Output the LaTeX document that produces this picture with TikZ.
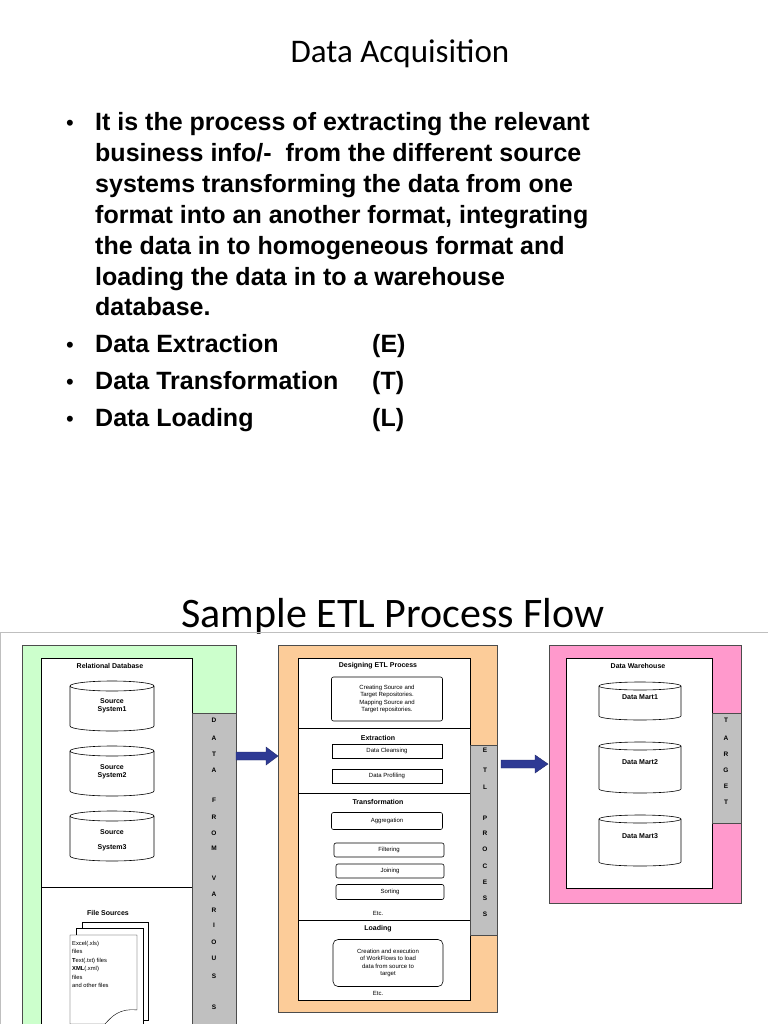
\documentclass[tikz,border=0pt]{standalone}
\usepackage{fontspec}
\setmainfont{Liberation Sans}
\newfontfamily\calib{Carlito}
\usetikzlibrary{shapes.geometric}
\definecolor{pgreen}{HTML}{CCFFCC}
\definecolor{porange}{HTML}{FCCC99}
\definecolor{ppink}{HTML}{FF99CC}
\definecolor{pgray}{HTML}{C0C0C0}
\definecolor{parrow}{HTML}{2E3A94}
\begin{document}
\begin{tikzpicture}[x=1pt,y=-1pt,
  bul/.style={anchor=base west,font=\fontsize{25}{27}\selectfont\bfseries,inner sep=0},
  dot/.style={anchor=base,font=\fontsize{22}{24}\selectfont,inner sep=0},
  panel/.style={draw=black!70,line width=0.8pt},
  inner/.style={draw=black,fill=white,line width=0.6pt},
  col/.style={draw=black!70,fill=pgray,line width=0.6pt},
  hd/.style={font=\fontsize{7}{8}\selectfont\bfseries,inner sep=0},
  sm/.style={font=\fontsize{6}{7.5}\selectfont,inner sep=0,align=center},
  vl/.style={font=\fontsize{6.5}{7}\selectfont\bfseries,inner sep=0},
  rbox/.style={draw,rounded corners=2pt,line width=0.6pt,fill=white},
  barrow/.style={fill=parrow,draw=parrow!70!black,line width=0.4pt},
  pics/cyl/.style n args={3}{code={
    \draw[fill=white,line width=0.6pt] (-#1,0) arc[start angle=180,end angle=360,x radius=#1,y radius=#2]
      -- (#1,#3) arc[start angle=0,end angle=180,x radius=#1,y radius=#2] -- cycle;
    \draw[line width=0.6pt] (-#1,0) arc[start angle=180,end angle=0,x radius=#1,y radius=#2];
  }}]
\useasboundingbox (0,0) rectangle (768,1024);
\fill[white] (0,0) rectangle (768,1024);
% titles
\node[font=\calib\fontsize{33}{36}\selectfont] (t1) at (400,54) {Data Acquisition};
\node[font=\calib\fontsize{42}{46}\selectfont] (t2) at (393,616) {Sample ETL Process Flow};
% bullets
\foreach \y in {131,352,389,426} \node[dot] at (70,\y) {\textbullet};
\node[bul] (b1) at (95,131) {It is the process of extracting the relevant};
\node[bul] (b2) at (95,162) {business info/-\ \ from the different source};
\node[bul] (b3) at (95,193) {systems transforming the data from one};
\node[bul] (b4) at (95,223) {format into an another format, integrating};
\node[bul] (b5) at (95,254) {the data in to homogeneous format and};
\node[bul] (b6) at (95,285) {loading the data in to a warehouse};
\node[bul] (b7) at (95,315) {database.};
\node[bul] (e1) at (95,352) {Data Extraction};
\node[bul] (e2) at (95,389) {Data Transformation};
\node[bul] (e3) at (95,426) {Data Loading};
\node[bul] (f1) at (372,352) {(E)};
\node[bul] (f2) at (372,389) {(T)};
\node[bul] (f3) at (372,426) {(L)};
% frame line
\draw[black!25,line width=1pt] (0,1024) -- (0,632) -- (768,632);
% ---------- left panel
\draw[panel,fill=pgreen] (22,645) rectangle (236,1030);
\draw[inner] (41,658) rectangle (192,1030);
\draw[inner] (41,887) -- (192,887);
\draw[col] (192,713) rectangle (236,1030);
\node[hd] (rd) at (110,666) {Relational Database};
\pic at (112,686) {cyl={42}{5}{40}};
\node[hd,align=center] (s1) at (112,706) {Source\\System1};
\pic at (112,751) {cyl={42}{5}{40}};
\node[hd,align=center] (s2) at (112,772) {Source\\System2};
\pic at (112,816) {cyl={42}{5}{40}};
\node[hd] (s3) at (112,832) {Source};
\node[hd] at (112,848) {System3};
\node[hd] (fs) at (108,913) {File Sources};
\draw[fill=white] (82,922) rectangle (148,1020);
\draw[fill=white] (76,928) rectangle (143,1026);
\draw[fill=white] (70,935) -- (137,935) -- (137,1010) .. controls (120,1008) and (112,1016) .. (105,1024) -- (70,1024) -- cycle;
\node[sm,anchor=north west,align=left,font=\fontsize{5.8}{8.5}\selectfont] (fst) at (72,941) {Excel(.xls)\\files\\\textbf{T}ext(.txt) files\\\textbf{XML}(.xml)\\files\\and other files};
\foreach \l/\y in {D/720,A/738,T/754,A/770,F/800,R/817,O/833,M/848,V/878,A/894,R/910,I/925,O/942,U/958,S/976,S/1007}
  \node[vl] at (214,\y) {\l};
% arrows
\draw[barrow] (236,752) -- (266,752) -- (266,747) -- (278,756) -- (266,765) -- (266,760) -- (236,760) -- cycle;
\draw[barrow] (501,760) -- (535,760) -- (535,755) -- (548,764) -- (535,773) -- (535,768) -- (501,768) -- cycle;
% ---------- middle panel
\draw[panel,fill=porange] (278,645) rectangle (497,1012);
\draw[inner] (298,658) rectangle (470,1000);
\draw (298,728) -- (470,728) (298,793) -- (470,793) (298,920) -- (470,920);
\draw[col] (470,745) rectangle (497,935);
\node[hd] (d1) at (378,666) {Designing ETL Process};
\node[rbox,minimum width=111pt,minimum height=44pt] (d2) at (387,699) {};
\node[sm] at (387,699) {Creating Source and\\Target Repositories.\\Mapping Source and\\Target repositories.};
\node[hd] (x1) at (378,738) {Extraction};
\node[rbox,rounded corners=0pt,minimum width=110pt,minimum height=14pt,sm] (x2) at (387,751) {Data Cleansing};
\node[rbox,rounded corners=0pt,minimum width=110pt,minimum height=14pt,sm] (x3) at (387,776) {Data Profiling};
\node[hd] (tr) at (378,802) {Transformation};
\node[rbox,minimum width=111pt,minimum height=17pt,sm] (tr1) at (387,821) {Aggregation};
\node[rbox,minimum width=110pt,minimum height=14pt,sm] (tr2) at (389,850) {Filtering};
\node[rbox,minimum width=108pt,minimum height=14pt,sm] (tr3) at (390,871) {Joining};
\node[rbox,minimum width=108pt,minimum height=15pt,sm] (tr4) at (390,892) {Sorting};
\node[sm] (etc1) at (378,913) {Etc.};
\node[hd] (ld) at (378,929) {Loading};
\node[rbox,rounded corners=5pt,minimum width=110pt,minimum height=47pt] (ld2) at (388,963) {};
\node[sm] at (388,963) {Creation and execution\\of WorkFlows to load\\data from source to\\target};
\node[sm] (etc2) at (378,993) {Etc.};
\foreach \l/\y in {E/750,T/770,L/787,P/818,R/833,O/849,C/866,E/882,S/898,S/914}
  \node[vl] at (485,\y) {\l};
% ---------- right panel
\draw[panel,fill=ppink] (549,645) rectangle (741,903);
\draw[inner] (566,658) rectangle (712,888);
\draw[col] (712,713) rectangle (741,823);
\node[hd] (dw) at (638,666) {Data Warehouse};
\pic at (640,686) {cyl={41}{4}{30}};
\node[hd] (m1) at (640,697) {Data Mart1};
\pic at (640,746) {cyl={41}{4}{43}};
\node[hd] (m2) at (640,762) {Data Mart2};
\pic at (640,819) {cyl={41}{4}{43}};
\node[hd] (m3) at (640,836) {Data Mart3};
\foreach \l/\y in {T/720,A/738,R/754,G/770,E/786,T/802}
  \node[vl] at (726,\y) {\l};
\end{tikzpicture}
\end{document}
